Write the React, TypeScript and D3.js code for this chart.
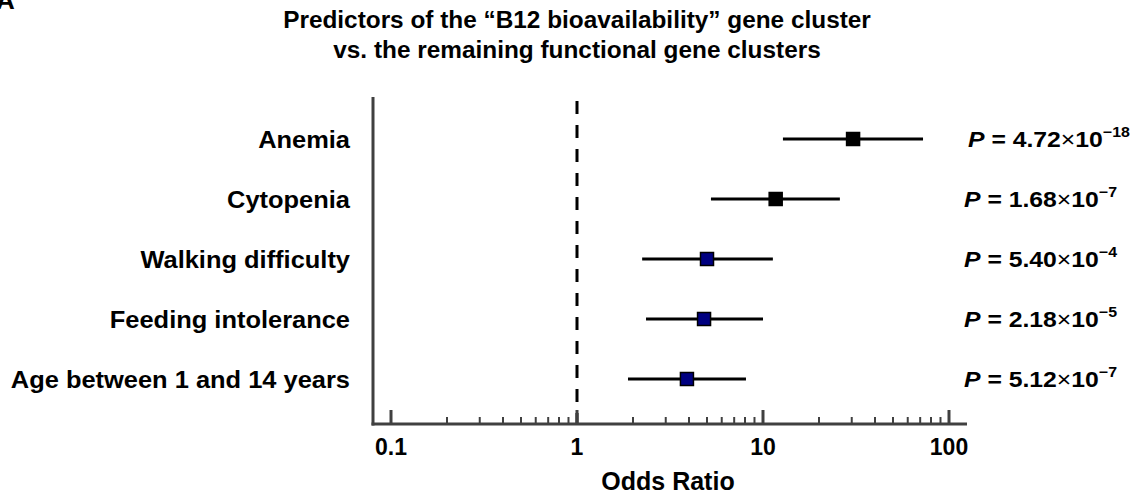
import React from "react";
import * as d3 from "d3";

const categories = [
  "Anemia",
  "Cytopenia",
  "Walking difficulty",
  "Feeding intolerance",
  "Age between 1 and 14 years",
];
const oddsRatio = [30.5, 11.7, 5.0, 4.82, 3.9];
const ciLow = [12.8, 5.25, 2.24, 2.35, 1.88];
const ciHigh = [72.5, 25.9, 11.3, 10.0, 8.1];
const hematologic = [true, true, false, false, false];
const pMantissa = ["4.72", "1.68", "5.40", "2.18", "5.12"];
const pExponent = ["18", "7", "4", "5", "7"];
const majorTicks = [0.1, 1, 10, 100];
const tickLabels = ["0.1", "1", "10", "100"];

const FONT = "'Liberation Sans', Arial, Helvetica, sans-serif";
const AXIS = "#404040";

export default function App() {
  const W = 1143;
  const H = 496;
  const axisLeft = 373;
  const axisRight = 967;
  const axisTop = 97;
  const axisBottom = 424;

  const x = d3.scaleLog().domain([0.1, 100]).range([391, 949]);
  const y = d3.scalePoint<string>().domain(categories).range([139, 379]);

  const minorTicks: number[] = [];
  [0.1, 1, 10].forEach((dec) => {
    for (let k = 2; k <= 9; k++) minorTicks.push(dec * k);
  });

  const sq = 13;
  const sx = 1.06;

  return (
    <svg
      width={W}
      height={H}
      style={{ position: "absolute", left: 0, top: 0, background: "#fff" }}
      fontFamily={FONT}
    >
      <rect width={W} height={H} fill="#fff" />
      {/* panel letter (cropped in the original figure) */}
      <text x={-4} y={9} fontSize={26} fontWeight="bold">A</text>

      {/* title */}
      <g transform={`translate(577,0) scale(${sx},1)`}>
        <text y={28} textAnchor="middle" fontSize={23} fontWeight="bold">
          Predictors of the “B12 bioavailability” gene cluster
        </text>
        <text y={58} textAnchor="middle" fontSize={23} fontWeight="bold">
          vs. the remaining functional gene clusters
        </text>
      </g>

      {/* reference line at OR = 1 */}
      <line
        x1={x(1)}
        x2={x(1)}
        y1={101}
        y2={axisBottom}
        stroke="#000"
        strokeWidth={3}
        strokeDasharray="13 11"
      />

      {/* axes */}
      <line x1={axisLeft} x2={axisLeft} y1={axisTop} y2={axisBottom + 1.5} stroke={AXIS} strokeWidth={3} />
      <line x1={axisLeft - 1.5} x2={axisRight} y1={axisBottom} y2={axisBottom} stroke={AXIS} strokeWidth={3} />
      {majorTicks.map((t) => (
        <line key={"M" + t} x1={x(t)} x2={x(t)} y1={axisBottom} y2={axisBottom - 14} stroke={AXIS} strokeWidth={3} />
      ))}
      {minorTicks.map((t) => (
        <line key={"m" + t} x1={x(t)} x2={x(t)} y1={axisBottom} y2={axisBottom - 7} stroke={AXIS} strokeWidth={2} />
      ))}
      {majorTicks.map((t, i) => (
        <text
          key={"L" + t}
          x={x(t)}
          y={455}
          textAnchor="middle"
          fontSize={23}
          fontWeight="bold"
        >
          {tickLabels[i]}
        </text>
      ))}
      <text x={668} y={490} textAnchor="middle" fontSize={25} fontWeight="bold">
        Odds Ratio
      </text>

      {/* rows */}
      {categories.map((c, i) => {
        const yy = y(c)!;
        return (
          <g key={c}>
            <text
              transform={`translate(350,${yy + 8.5}) scale(${sx},1)`}
              textAnchor="end"
              fontSize={24}
              fontWeight="bold"
            >
              {c}
            </text>
            <line x1={x(ciLow[i])} x2={x(ciHigh[i])} y1={yy} y2={yy} stroke="#000" strokeWidth={3} />
            <rect
              x={x(oddsRatio[i]) - sq / 2}
              y={yy - sq / 2}
              width={sq}
              height={sq}
              fill={hematologic[i] ? "#000" : "#000080"}
              stroke="#000"
              strokeWidth={1.5}
            />
            <text
              transform={`translate(${i === 0 ? 968 : 964},${yy + 8}) scale(1.1,1)`}
              fontSize={22.5}
              fontWeight="bold"
            >
              <tspan fontStyle="italic">P</tspan>
              <tspan> = {pMantissa[i]}</tspan>
              <tspan fontWeight="normal">×</tspan>
              <tspan>10</tspan>
              <tspan dy={-10} fontSize={14.5}>−{pExponent[i]}</tspan>
            </text>
          </g>
        );
      })}
    </svg>
  );
}
